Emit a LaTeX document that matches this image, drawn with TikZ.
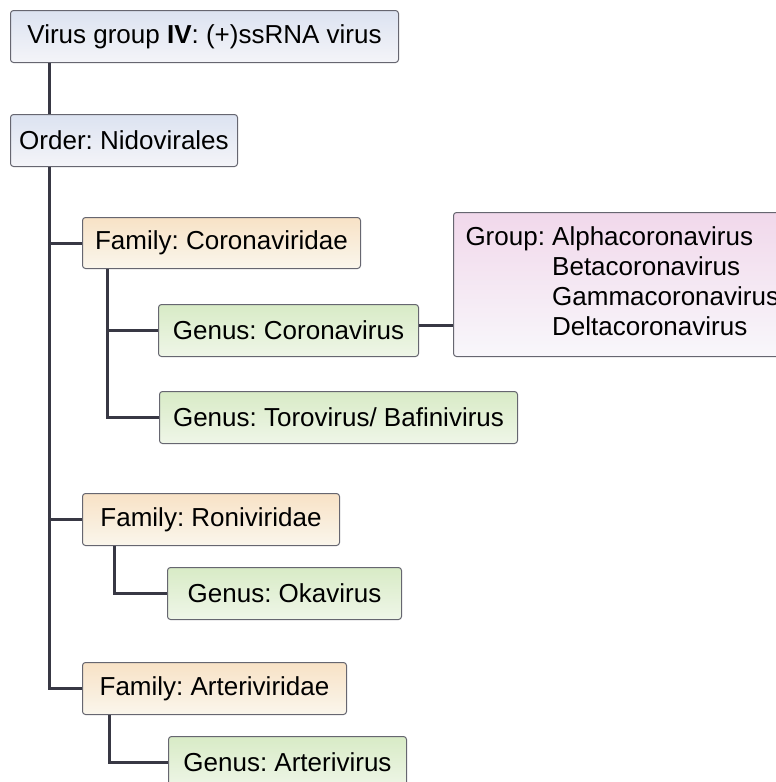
\documentclass[tikz,border=0pt]{standalone}
\usepackage{fontspec}
\setmainfont{Liberation Sans}
\usetikzlibrary{positioning}
\definecolor{vgBlueTop}{HTML}{DCE3F1}
\definecolor{vgBlueBot}{HTML}{F4F4F8}
\definecolor{vgPeachTop}{HTML}{F8E2C6}
\definecolor{vgPeachBot}{HTML}{FAF6EC}
\definecolor{vgGreenTop}{HTML}{D8EBC6}
\definecolor{vgGreenBot}{HTML}{EFF6E8}
\definecolor{vgPinkTop}{HTML}{F1D8EB}
\definecolor{vgPinkBot}{HTML}{F8F7FB}
\definecolor{vgEdge}{HTML}{666670}
\definecolor{vgLine}{HTML}{383844}
\frenchspacing

\begin{document}
\begin{tikzpicture}[
  x=0.5pt, y=-0.5pt,
  box/.style={draw=vgEdge, line width=0.5pt, rounded corners=1.5pt, anchor=north west, inner sep=0pt, minimum height=26pt, align=center, font=\fontsize{13}{15}\selectfont},
  rank/.style={box, top color=vgBlueTop, bottom color=vgBlueBot},
  family/.style={box, top color=vgPeachTop, bottom color=vgPeachBot},
  genus/.style={box, top color=vgGreenTop, bottom color=vgGreenBot},
  members/.style={box, top color=vgPinkTop, bottom color=vgPinkBot, inner xsep=6pt, minimum height=72pt},
  link/.style={draw=vgLine, line width=1.5pt}
]
\useasboundingbox (0,0) rectangle (776,782);
\clip (0,0) rectangle (776,782);

% upper ranks
\node[rank, minimum width=194pt] (virus) at (10,10) {Virus group \textbf{IV}: (+)ssRNA virus};
\node[rank, minimum width=113.5pt] (order) at (10,114) {Order: Nidovirales};

% families
\node[family, minimum width=139pt, minimum height=25.5pt] (corfam) at (82,217) {Family: Coronaviridae};
\node[family, minimum width=128.5pt] (ronfam) at (82,493) {Family: Roniviridae};
\node[family, minimum width=132pt] (artfam) at (82,662) {Family: Arteriviridae};

% genera
\node[genus, minimum width=130pt] (corgen) at (158,304) {Genus: Coronavirus};
\node[genus, minimum width=179pt] (torgen) at (159,391) {Genus: Torovirus/ Bafinivirus};
\node[genus, minimum width=117pt] (okagen) at (167,567) {Genus: Okavirus};
\node[genus, minimum width=119pt] (artgen) at (168,736) {Genus: Arterivirus};

\node[members] (group) at (453,212) {\begin{tabular}{@{}l@{\ }l@{}}
Group: & Alphacoronavirus\\
 & Betacoronavirus\\
 & Gammacoronavirus\\
 & Deltacoronavirus
\end{tabular}};

% tree lines
\draw[link] ([xshift=19.5pt]virus.south west) -- ([xshift=19.5pt]order.north west);
\draw[link] ([xshift=19.5pt]order.south west) |- (corfam.west);
\draw[link] ([xshift=19.5pt]order.south west) |- (ronfam.west);
\draw[link] ([xshift=19.5pt]order.south west) |- (artfam.west);
\draw[link] ([xshift=12.5pt]corfam.south west) |- (corgen.west);
\draw[link] ([xshift=12.5pt]corfam.south west) |- (torgen.west);
\draw[link] ([xshift=16pt]ronfam.south west) |- (okagen.west);
\draw[link] ([xshift=13.5pt]artfam.south west) |- (artgen.west);
\draw[link] ([yshift=2.5pt]corgen.east) -- ([yshift=2.5pt]corgen.east -| group.west);
\end{tikzpicture}
\end{document}
